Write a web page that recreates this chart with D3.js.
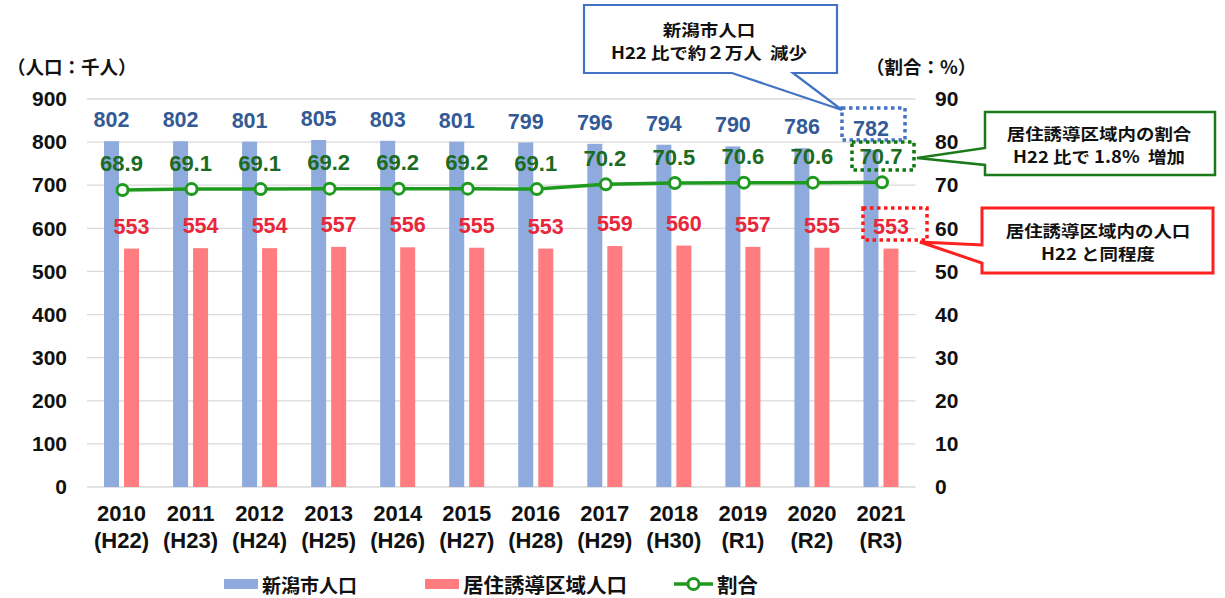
<!DOCTYPE html>
<html><head><meta charset="utf-8">
<script src="https://cdn.jsdelivr.net/npm/d3@7"></script>
<style>
html,body{margin:0;padding:0;background:#fff;}
svg{display:block;}
text{font-family:"Liberation Sans",Arial,"Noto Sans CJK JP",sans-serif;}
.jp{font-family:"Noto Sans CJK JP","Liberation Sans",sans-serif;}
.pre{white-space:pre;}
</style></head>
<body>
<svg id="c" width="1225" height="598"></svg>
<script>
const years = ["2010","2011","2012","2013","2014","2015","2016","2017","2018","2019","2020","2021"];
const eras = ["(H22)","(H23)","(H24)","(H25)","(H26)","(H27)","(H28)","(H29)","(H30)","(R1)","(R2)","(R3)"];
const cityPop = [802,802,801,805,803,801,799,796,794,790,786,782];
const zonePop = [553,554,554,557,556,555,553,559,560,557,555,553];
const ratio = [68.9,69.1,69.1,69.2,69.2,69.2,69.1,70.2,70.5,70.6,70.6,70.7];
const leftTicks = [0,100,200,300,400,500,600,700,800,900];
const rightTicks = [0,10,20,30,40,50,60,70,80,90];
const seriesNames = ["新潟市人口","居住誘導区域人口","割合"];

const C = {blue:"#8FAADC", red:"#FF7C80", green:"#1E9B1E",
  blueLbl:"#345A96", redLbl:"#E8283A", greenLbl:"#1C6B22"};

const svg = d3.select("#c");
const x = d3.scaleBand().domain(years).range([87,915.5]).padding(0);
const yL = d3.scaleLinear().domain([0,900]).range([487,99]);
const yR = d3.scaleLinear().domain([0,90]).range([487,99]);
const cx = d => x(d) + x.bandwidth()/2;

// gridlines
svg.append("g").selectAll("line").data(leftTicks).join("line")
  .attr("x1",87).attr("x2",915.5)
  .attr("y1",d=>yL(d)).attr("y2",d=>yL(d))
  .attr("stroke","#D9D9D9").attr("stroke-width",1.3);

// axes
const axL = d3.axisLeft(yL).tickValues(leftTicks).tickSize(0).tickPadding(0);
const gL = svg.append("g").attr("transform","translate(67,0)").call(axL);
gL.select(".domain").remove();
gL.selectAll("text").attr("font-size",21).attr("font-weight","bold").attr("fill","#111")
  .attr("font-family","Liberation Sans, Arial, sans-serif");

const axR = d3.axisRight(yR).tickValues(rightTicks).tickSize(0).tickPadding(0);
const gR = svg.append("g").attr("transform","translate(935,0)").call(axR);
gR.select(".domain").remove();
gR.selectAll("text").attr("font-size",21).attr("font-weight","bold").attr("fill","#111")
  .attr("font-family","Liberation Sans, Arial, sans-serif");

// bars
svg.append("g").selectAll("rect").data(years).join("rect")
  .attr("x",(d)=>cx(d)-17.5).attr("width",15)
  .attr("y",(d,i)=>yL(cityPop[i])).attr("height",(d,i)=>yL(0)-yL(cityPop[i]))
  .attr("fill",C.blue);
svg.append("g").selectAll("rect").data(years).join("rect")
  .attr("x",(d)=>cx(d)+2.5).attr("width",15)
  .attr("y",(d,i)=>yL(zonePop[i])).attr("height",(d,i)=>yL(0)-yL(zonePop[i]))
  .attr("fill",C.red);

// bar labels
svg.append("g").selectAll("text").data(years).join("text")
  .attr("x",d=>cx(d)-10).attr("y",(d,i)=>yL(cityPop[i])-21)
  .attr("text-anchor","middle").attr("dominant-baseline","central")
  .attr("font-size",21.5).attr("font-weight","bold").attr("fill",C.blueLbl)
  .text((d,i)=>cityPop[i]);
svg.append("g").selectAll("text").data(years).join("text")
  .attr("x",d=>cx(d)+10).attr("y",(d,i)=>yL(zonePop[i])-22)
  .attr("text-anchor","middle").attr("dominant-baseline","central")
  .attr("font-size",21.5).attr("font-weight","bold").attr("fill",C.redLbl)
  .text((d,i)=>zonePop[i]);

// line
const line = d3.line().x(d=>cx(d)+1).y((d,i)=>yR(ratio[i]));
svg.append("path").datum(years).attr("d",line)
  .attr("fill","none").attr("stroke",C.green).attr("stroke-width",3.5);
svg.append("g").selectAll("circle").data(years).join("circle")
  .attr("cx",d=>cx(d)+1).attr("cy",(d,i)=>yR(ratio[i])).attr("r",5.5)
  .attr("fill","#fff").attr("stroke",C.green).attr("stroke-width",3);
svg.append("g").selectAll("text").data(years).join("text")
  .attr("x",d=>cx(d)).attr("y",(d,i)=>yR(ratio[i])-26)
  .attr("text-anchor","middle").attr("dominant-baseline","central")
  .attr("font-size",22).attr("font-weight","bold").attr("fill",C.greenLbl)
  .text((d,i)=>ratio[i].toFixed(1));

// x labels
const xl = svg.append("g").selectAll("g").data(years).join("g");
xl.append("text").attr("x",d=>cx(d)).attr("y",513).attr("text-anchor","middle")
  .attr("dominant-baseline","central").attr("font-size",22).attr("font-weight","bold").attr("fill","#111")
  .text(d=>d);
xl.append("text").attr("x",d=>cx(d)).attr("y",540).attr("text-anchor","middle")
  .attr("dominant-baseline","central").attr("font-size",22).attr("font-weight","bold").attr("fill","#111")
  .text((d,i)=>eras[i]);

// axis titles
svg.append("text").attr("class","jp").attr("x",7).attr("y",66).attr("dominant-baseline","central")
  .attr("font-size",18.5).attr("font-weight","bold").attr("fill","#111").text("（人口：千人）");
svg.append("text").attr("class","jp").attr("x",866).attr("y",66).attr("dominant-baseline","central")
  .attr("font-size",18.5).attr("font-weight","bold").attr("fill","#111").text("（割合：%）");

// legend
const lg = svg.append("g");
lg.append("rect").attr("x",224).attr("y",579).attr("width",34).attr("height",10).attr("fill",C.blue);
lg.append("text").attr("class","jp").attr("x",262).attr("y",584).attr("dominant-baseline","central")
  .attr("font-size",19).attr("font-weight","bold").attr("fill","#111").text(seriesNames[0]);
lg.append("rect").attr("x",425).attr("y",579).attr("width",34).attr("height",10).attr("fill",C.red);
lg.append("text").attr("class","jp").attr("x",463).attr("y",584).attr("dominant-baseline","central")
  .attr("font-size",20.5).attr("font-weight","bold").attr("fill","#111").text(seriesNames[1]);
lg.append("line").attr("x1",674).attr("x2",713).attr("y1",584).attr("y2",584)
  .attr("stroke",C.green).attr("stroke-width",3.5);
lg.append("circle").attr("cx",693.5).attr("cy",584).attr("r",5.5)
  .attr("fill","#fff").attr("stroke",C.green).attr("stroke-width",3);
lg.append("text").attr("class","jp").attr("x",717).attr("y",584).attr("dominant-baseline","central")
  .attr("font-size",20.5).attr("font-weight","bold").attr("fill","#111").text(seriesNames[2]);

// dotted highlight boxes
function dotBox(x0,y0,x1,y1,col){
  svg.append("rect").attr("x",x0).attr("y",y0).attr("width",x1-x0).attr("height",y1-y0)
    .attr("fill","none").attr("stroke",col).attr("stroke-width",3.5).attr("stroke-dasharray","3.5,3.5");
}
dotBox(842,108,905,140,"#4472C4");
dotBox(852,142,914,170,"#117711");
dotBox(863,208,927,240,"#FF1A1A");

// callouts
function callout(d,col,w){
  svg.append("path").attr("d",d).attr("fill","#fff").attr("stroke",col).attr("stroke-width",w)
    .attr("stroke-linejoin","miter");
}
callout("M584,5 H837 V73 H793 L842,110 L732,73 H584 Z","#4472C4",2.2);
callout("M985,112 H1215 V175 H985 V165 L917,158 L985,148 Z","#1A7A1A",2.5);
callout("M982,208 H1213 V273 H982 V263 L920,242 L982,245 Z","#FF2020",3);

function ctext(xc,y,t){
  svg.append("text").attr("class","jp pre")
    .attr("transform",`translate(${xc},${y}) scale(1.12,1)`)
    .attr("x",0).attr("y",0).attr("text-anchor","middle")
    .attr("dominant-baseline","central").attr("font-size",16.5).attr("font-weight","bold")
    .attr("fill","#111").text(t);
}
ctext(709,29,"新潟市人口");
ctext(709,52,"H22 比で約２万人  減少");
ctext(1099,133,"居住誘導区域内の割合");
ctext(1099,156,"H22 比で 1.8%  増加");
ctext(1098,230,"居住誘導区域内の人口");
ctext(1098,253,"H22 と同程度");
</script>
</body></html>
